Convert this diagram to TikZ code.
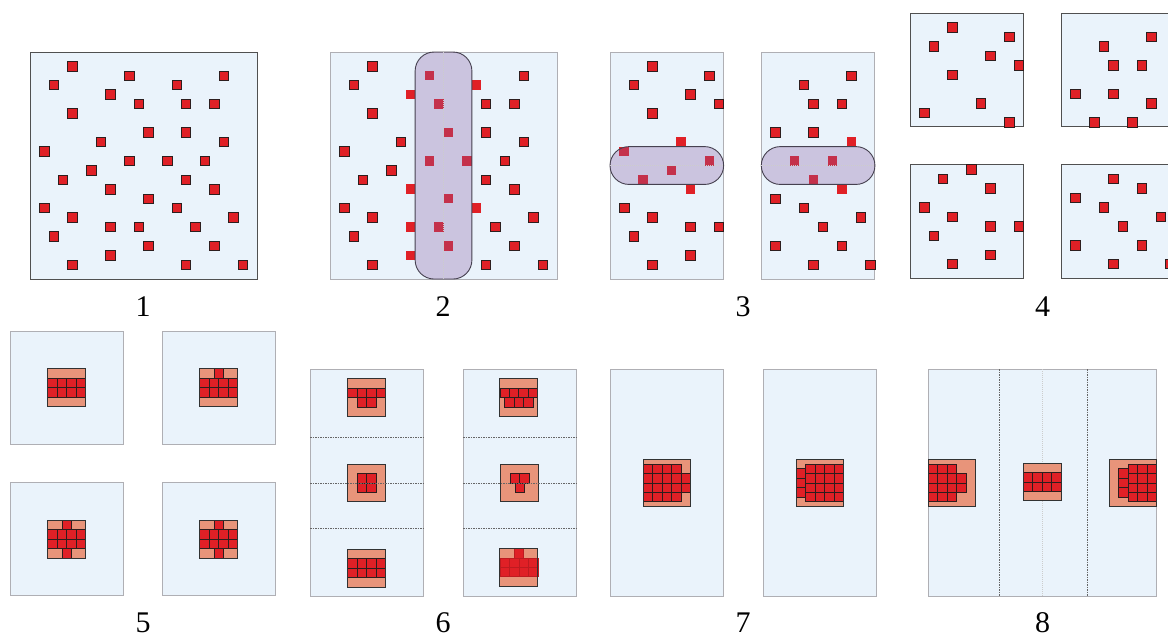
\documentclass[tikz,border=0pt]{standalone}
\usepackage{fontspec}
\setmainfont{Liberation Serif}
\definecolor{bgblue}{RGB}{234,243,251}
\definecolor{sqred}{RGB}{224,32,38}
\definecolor{sqedge}{RGB}{45,30,30}
\definecolor{blocksalmon}{RGB}{232,148,122}
\definecolor{blockedge}{RGB}{50,50,50}
\definecolor{capfill}{RGB}{134,90,161}
\definecolor{capedge}{RGB}{70,65,80}
\definecolor{darkframe}{RGB}{80,80,80}
\definecolor{lightframe}{RGB}{175,175,180}
\begin{document}
\begin{tikzpicture}[x=1pt,y=-1pt,
  rsq/.style={fill=sqred,draw=sqedge,line width=0.8pt},
  rsqn/.style={fill=sqred,draw=none},
  rsqf/.style={fill=sqred,draw=sqred!85!black,line width=0.4pt},
  panelA/.style={fill=bgblue,draw=darkframe,line width=1pt},
  panelB/.style={fill=bgblue,draw=lightframe,line width=1pt},
  blockfill/.style={fill=blocksalmon},
  blockframe/.style={draw=blockedge,line width=0.9pt},
  capsule/.style={fill=capfill,fill opacity=0.3,draw=capedge,line width=0.9pt,rounded corners=19pt},
  divline/.style={draw=black!60,line width=0.6pt,dash pattern=on 1.5pt off 1pt},
  faintline/.style={draw=black!20,line width=0.4pt,dash pattern=on 1pt off 1pt},
  lab/.style={font=\fontsize{30}{30}\selectfont,inner sep=0pt}]
\useasboundingbox (0,0) rectangle (1168,637);
\clip (0,0) rectangle (1168,637);

% ---------------- Panel 1
\begin{scope}[shift={(30,52)},x=9.46pt,y=-9.46pt]
\draw[panelA] (0,0) rectangle (24,24);
\foreach \i/\j in {4/1,10/2,20/2,2/3,15/3,8/4,11/5,16/5,19/5,4/6,12/8,16/8,7/9,20/9,1/10,10/11,14/11,18/11,6/12,3/13,16/13,8/14,19/14,12/15,1/16,15/16,4/17,21/17,8/18,11/18,17/18,2/19,12/20,19/20,8/21,4/22,16/22,22/22}
  \draw[rsq] (\i,\j) rectangle ++(1,1);
\end{scope}

% ---------------- Panel 2
\begin{scope}[shift={(330,52)},x=9.46pt,y=-9.46pt]
\draw[panelB] (0,0) rectangle (24,24);
\foreach \i/\j in {4/1,20/2,2/3,16/5,19/5,4/6,16/8,7/9,20/9,1/10,18/11,6/12,3/13,16/13,19/14,1/16,4/17,21/17,17/18,2/19,19/20,4/22,16/22,22/22}
  \draw[rsq] (\i,\j) rectangle ++(1,1);
\foreach \i/\j in {10/2,15/3,8/4,11/5,12/8,10/11,14/11,8/14,12/15,15/16,8/18,11/18,12/20,8/21}
  \fill[rsqn] (\i,\j) rectangle ++(1,1);
\draw[capsule] (9,0) rectangle (15,24);
\draw[faintline] (12,0) -- (12,24);
\end{scope}

% ---------------- Panel 3
\begin{scope}[shift={(610,52)},x=9.47pt,y=-9.46pt]
\draw[panelB] (0,0) rectangle (12,24);
\foreach \i/\j in {4/1,10/2,2/3,8/4,11/5,4/6,1/16,4/17,8/18,11/18,2/19,8/21,4/22}
  \draw[rsq] (\i,\j) rectangle ++(1,1);
\foreach \i/\j in {7/9,1/10,10/11,6/12,3/13,8/14}
  \fill[rsqn] (\i,\j) rectangle ++(1,1);
\draw[capsule] (0,10) rectangle (12,14);
\draw[faintline] (0,12) -- (12,12);
\end{scope}
\begin{scope}[shift={(761.3,52)},x=9.47pt,y=-9.46pt]
\draw[panelB] (0,0) rectangle (12,24);
\foreach \i/\j in {9/2,4/3,5/5,8/5,1/8,5/8,1/15,4/16,10/17,6/18,1/20,8/20,5/22,11/22}
  \draw[rsq] (\i,\j) rectangle ++(1,1);
\foreach \i/\j in {9/9,3/11,7/11,5/13,8/14}
  \fill[rsqn] (\i,\j) rectangle ++(1,1);
\draw[capsule] (0,10) rectangle (12,14);
\draw[faintline] (0,12) -- (12,12);
\end{scope}

% ---------------- Panel 4
\begin{scope}[shift={(910,13.3)},x=9.47pt,y=-9.47pt]
\draw[panelA] (0,0) rectangle (12,12);
\foreach \i/\j in {4/1,10/2,2/3,8/4,11/5,4/6,7/9,1/10,10/11}
  \draw[rsq] (\i,\j) rectangle ++(1,1);
\end{scope}
\begin{scope}[shift={(1061.3,13.3)},x=9.47pt,y=-9.47pt]
\draw[panelA] (0,0) rectangle (12,12);
\foreach \i/\j in {9/2,4/3,5/5,8/5,1/8,5/8,9/9,3/11,7/11}
  \draw[rsq] (\i,\j) rectangle ++(1,1);
\end{scope}
\begin{scope}[shift={(910,164.7)},x=9.47pt,y=-9.47pt]
\draw[panelA] (0,0) rectangle (12,12);
\foreach \i/\j in {6/0,3/1,8/2,1/4,4/5,8/6,11/6,2/7,8/9,4/10}
  \draw[rsq] (\i,\j) rectangle ++(1,1);
\end{scope}
\begin{scope}[shift={(1061.3,164.7)},x=9.47pt,y=-9.47pt]
\draw[panelA] (0,0) rectangle (12,12);
\foreach \i/\j in {5/1,8/2,1/3,4/4,10/5,6/6,1/8,8/8,5/10,11/10}
  \draw[rsq] (\i,\j) rectangle ++(1,1);
\end{scope}

% ---------------- Panel 5
\begin{scope}[shift={(10,331)},x=9.47pt,y=-9.47pt]
\draw[panelB] (0,0) rectangle (12,12);
\begin{scope}[shift={(4,4)}]
\fill[blockfill] (0,0) rectangle (4,4);
\foreach \i/\j in {0/1,1/1,2/1,3/1,0/2,1/2,2/2,3/2} \draw[rsq] (\i,\j) rectangle ++(1,1);
\draw[blockframe] (0,0) rectangle (4,4);
\end{scope}
\end{scope}
\begin{scope}[shift={(162,331)},x=9.47pt,y=-9.47pt]
\draw[panelB] (0,0) rectangle (12,12);
\begin{scope}[shift={(4,4)}]
\fill[blockfill] (0,0) rectangle (4,4);
\foreach \i/\j in {1.5/0,0/1,1/1,2/1,3/1,0/2,1/2,2/2,3/2} \draw[rsq] (\i,\j) rectangle ++(1,1);
\draw[blockframe] (0,0) rectangle (4,4);
\end{scope}
\end{scope}
\begin{scope}[shift={(10,482.3)},x=9.47pt,y=-9.47pt]
\draw[panelB] (0,0) rectangle (12,12);
\begin{scope}[shift={(4,4)}]
\fill[blockfill] (0,0) rectangle (4,4);
\foreach \i/\j in {1.5/0,0/1,1/1,2/1,3/1,0/2,1/2,2/2,3/2,1.5/3} \draw[rsq] (\i,\j) rectangle ++(1,1);
\draw[blockframe] (0,0) rectangle (4,4);
\end{scope}
\end{scope}
\begin{scope}[shift={(162,482.3)},x=9.47pt,y=-9.47pt]
\draw[panelB] (0,0) rectangle (12,12);
\begin{scope}[shift={(4,4)}]
\fill[blockfill] (0,0) rectangle (4,4);
\foreach \i/\j in {1.5/0,0/1,1/1,2/1,3/1,0/2,1/2,2/2,3/2,1.5/3} \draw[rsq] (\i,\j) rectangle ++(1,1);
\draw[blockframe] (0,0) rectangle (4,4);
\end{scope}
\end{scope}

% ---------------- Panel 6
\begin{scope}[shift={(310,369.3)},x=9.47pt,y=-9.47pt]
\draw[panelB] (0,0) rectangle (12,24);
\draw[divline] (0,7.2) -- (12,7.2);
\draw[divline] (0,16.8) -- (12,16.8);
\begin{scope}[shift={(4,1)}]
\fill[blockfill] (0,0) rectangle (4,4);
\foreach \i/\j in {0/1,1/1,2/1,3/1,1/2,2/2} \draw[rsq] (\i,\j) rectangle ++(1,1);
\draw[blockframe] (0,0) rectangle (4,4);
\end{scope}
\begin{scope}[shift={(4,10)}]
\fill[blockfill] (0,0) rectangle (4,4);
\foreach \i/\j in {1/1,2/1,1/2,2/2} \draw[rsq] (\i,\j) rectangle ++(1,1);
\draw[blockframe] (0,0) rectangle (4,4);
\end{scope}
\begin{scope}[shift={(4,19)}]
\fill[blockfill] (0,0) rectangle (4,4);
\foreach \i/\j in {0/1,1/1,2/1,3/1,0/2,1/2,2/2,3/2} \draw[rsq] (\i,\j) rectangle ++(1,1);
\draw[blockframe] (0,0) rectangle (4,4);
\end{scope}
\draw[divline] (0,12) -- (12,12);
\end{scope}
\begin{scope}[shift={(463,369.3)},x=9.47pt,y=-9.47pt]
\draw[panelB] (0,0) rectangle (12,24);
\draw[divline] (0,7.2) -- (12,7.2);
\draw[divline] (0,16.8) -- (12,16.8);
\begin{scope}[shift={(3.9,1)}]
\fill[blockfill] (0,0) rectangle (4,4);
\foreach \i/\j in {0/1,1/1,2/1,3/1,0.5/2,1.5/2,2.5/2} \draw[rsq] (\i,\j) rectangle ++(1,1);
\draw[blockframe] (0,0) rectangle (4,4);
\end{scope}
\begin{scope}[shift={(4,10)}]
\fill[blockfill] (0,0) rectangle (4,4);
\foreach \i/\j in {1/1,2/1,1.5/2} \draw[rsq] (\i,\j) rectangle ++(1,1);
\draw[blockframe] (0,0) rectangle (4,4);
\end{scope}
\begin{scope}[shift={(3.9,18.9)}]
\fill[blockfill] (0,0) rectangle (4,4);
\foreach \i/\j in {1.5/0,0/1,1/1,2/1,3/1,0/2,1/2,2/2,3/2} \draw[rsqf] (\i,\j) rectangle ++(1,1);
\draw[blockframe] (0,0) rectangle (4,4);
\end{scope}
\draw[divline] (0,12) -- (12,12);
\end{scope}

% ---------------- Panel 7
\begin{scope}[shift={(610,369.3)},x=9.47pt,y=-9.47pt]
\draw[panelB] (0,0) rectangle (12,24);
\begin{scope}[shift={(3.5,9.5)}]
\fill[blockfill] (0,0) rectangle (5,5);
\foreach \i in {0,1,2,3} \foreach \j in {0.5,1.5,2.5,3.5} \draw[rsq] (\i,\j) rectangle ++(1,1);
\foreach \i/\j in {4/1.5,4/2.5} \draw[rsq] (\i,\j) rectangle ++(1,1);
\draw[blockframe] (0,0) rectangle (5,5);
\end{scope}
\end{scope}
\begin{scope}[shift={(763,369.3)},x=9.47pt,y=-9.47pt]
\draw[panelB] (0,0) rectangle (12,24);
\begin{scope}[shift={(3.5,9.5)}]
\fill[blockfill] (0,0) rectangle (5,5);
\foreach \i in {1,2,3,4} \foreach \j in {0.5,1.5,2.5,3.5} \draw[rsq] (\i,\j) rectangle ++(1,1);
\foreach \i/\j in {0/1,0/2,0/3} \draw[rsq] (\i,\j) rectangle ++(1,1);
\draw[blockframe] (0,0) rectangle (5,5);
\end{scope}
\end{scope}

% ---------------- Panel 8
\begin{scope}[shift={(928.3,369.3)},x=9.5pt,y=-9.47pt]
\draw[panelB] (0,0) rectangle (24,24);
\draw[faintline] (12,0) -- (12,24);
\draw[divline] (7.5,0) -- (7.5,24);
\draw[divline] (16.7,0) -- (16.7,24);
\begin{scope}[shift={(0,9.5)}]
\fill[blockfill] (0,0) rectangle (5,5);
\foreach \i in {0,1,2} \foreach \j in {0.5,1.5,2.5,3.5} \draw[rsq] (\i,\j) rectangle ++(1,1);
\foreach \i/\j in {3/1.5,3/2.5} \draw[rsq] (\i,\j) rectangle ++(1,1);
\draw[blockframe] (0,0) rectangle (5,5);
\end{scope}
\begin{scope}[shift={(10,9.9)}]
\fill[blockfill] (0,0) rectangle (4,4);
\foreach \i/\j in {0/1,1/1,2/1,3/1,0/2,1/2,2/2,3/2} \draw[rsq] (\i,\j) rectangle ++(1,1);
\draw[blockframe] (0,0) rectangle (4,4);
\end{scope}
\begin{scope}[shift={(19.05,9.5)}]
\fill[blockfill] (0,0) rectangle (5,5);
\foreach \i in {2,3,4} \foreach \j in {0.5,1.5,2.5,3.5} \draw[rsq] (\i,\j) rectangle ++(1,1);
\foreach \i/\j in {1/1,1/2,1/3} \draw[rsq] (\i,\j) rectangle ++(1,1);
\draw[blockframe] (0,0) rectangle (5,5);
\end{scope}
\end{scope}

% ---------------- Labels
\node[lab] (lab1) at (143,307) {1};
\node[lab] (lab2) at (443,307) {2};
\node[lab] (lab3) at (743,307) {3};
\node[lab] (lab4) at (1042.5,307) {4};
\node[lab] (lab5) at (143,623) {5};
\node[lab] (lab6) at (443,623) {6};
\node[lab] (lab7) at (743,623) {7};
\node[lab] (lab8) at (1042.5,623) {8};
\end{tikzpicture}
\end{document}
